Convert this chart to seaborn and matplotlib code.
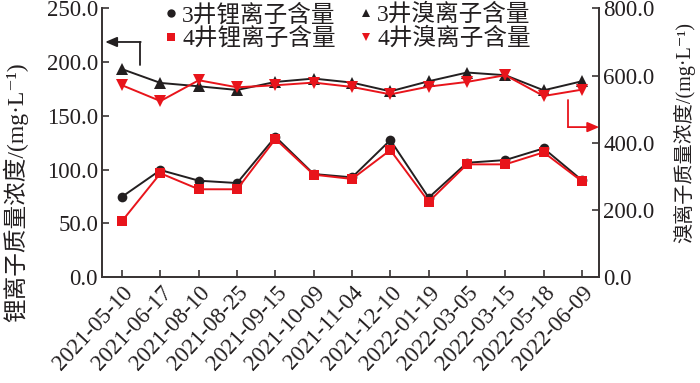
import numpy as np
import pandas as pd
import matplotlib
matplotlib.use("Agg")
import matplotlib.pyplot as plt
import seaborn as sns
from matplotlib.lines import Line2D
from matplotlib.ticker import FormatStrFormatter

# ---- data ----
dates = ["2021-05-10", "2021-06-17", "2021-08-10", "2021-08-25", "2021-09-15",
         "2021-10-09", "2021-11-04", "2021-12-10", "2022-01-19", "2022-03-05",
         "2022-03-15", "2022-05-18", "2022-06-09"]
li_well3 = [74.7, 99.5, 89.6, 87.4, 130.5, 95.8, 92.7, 127.4, 73.8, 106.3, 108.8, 119.7, 90.0]
li_well4 = [52.1, 96.5, 81.6, 81.6, 128.4, 95.2, 91.2, 118.1, 70.0, 104.8, 104.8, 116.0, 89.0]
br_well3 = [619, 578, 568, 557, 581, 591, 579, 553, 583, 609, 601, 556, 583]
br_well4 = [571, 524, 586, 565, 571, 579, 566, 544, 567, 581, 601, 539, 558]
labels = ["3井锂离子含量", "4井锂离子含量", "3井溴离子含量", "4井溴离子含量"]

sns.set_style("ticks")
FAM = ['Liberation Serif', 'Noto Sans CJK SC', 'DejaVu Serif', 'DejaVu Sans']
plt.rcParams['font.family'] = FAM
plt.rcParams['axes.unicode_minus'] = False

BLACK = "#231f20"
RED = "#e8141b"
AXC = "#3a3535"

df = pd.DataFrame({"idx": np.arange(len(dates)), "date": dates,
                   "li3": li_well3, "li4": li_well4, "br3": br_well3, "br4": br_well4})

fig = plt.figure(figsize=(7.0, 3.83), dpi=100)
ax = fig.add_axes([0.146, 0.277, 0.710, 0.701])
ax2 = ax.twinx()

sns.lineplot(data=df, x="idx", y="li3", ax=ax, color=BLACK, marker="o", markersize=7,
             markeredgewidth=0, linewidth=1.4, zorder=3)
sns.lineplot(data=df, x="idx", y="li4", ax=ax, color=RED, marker="s", markersize=7,
             markeredgewidth=0, linewidth=1.4, zorder=4)
sns.lineplot(data=df, x="idx", y="br3", ax=ax2, color=BLACK, marker="^", markersize=8,
             markeredgewidth=0, linewidth=1.4, zorder=3)
sns.lineplot(data=df, x="idx", y="br4", ax=ax2, color=RED, marker="v", markersize=8,
             markeredgewidth=0, linewidth=1.4, zorder=4)

ax.set_xlim(-0.52, 12.45)
ax.set_ylim(0, 250)
ax2.set_ylim(0, 800)
ax.set_yticks(np.arange(0, 251, 50))
ax2.set_yticks(np.arange(0, 801, 200))
ax.yaxis.set_major_formatter(FormatStrFormatter('%.1f'))
ax2.yaxis.set_major_formatter(FormatStrFormatter('%.1f'))
ax.set_xticks(df["idx"])
ax.set_xticklabels(dates, rotation=47, ha="right", rotation_mode="anchor")

ax.set_xlabel("")
ax.set_ylabel("")
ax2.set_ylabel("")

for a in (ax, ax2):
    for s in a.spines.values():
        s.set_color(AXC)
        s.set_linewidth(1.3)
    a.spines['top'].set_visible(False)
    a.tick_params(direction="in", length=5, width=1.2, color=AXC,
                  labelsize=16.5, labelcolor="#231f20", pad=3)
ax.tick_params(axis='x', pad=4)

# axis titles
fig.text(0.022, 0.497, "锂离子质量浓度/(mg·L⁻¹)", rotation=90, ha="center",
         va="center", fontsize=17, color="#231f20", family=FAM)
fig.text(0.978, 0.653, "溴离子质量浓度/(mg·L⁻¹)", rotation=90, ha="center",
         va="center", fontsize=14.5, color="#231f20", family=FAM)

# direction arrows
ax.plot([0.0765, 0.0765], [0.789, 0.875], transform=ax.transAxes, color=BLACK,
        lw=1.3, clip_on=False)
ax.annotate("", xy=(0.006, 0.875), xytext=(0.0775, 0.875), xycoords="axes fraction",
            arrowprops=dict(arrowstyle="-|>,head_length=0.7,head_width=0.3",
                            color=BLACK, lw=1.3, shrinkA=0, shrinkB=0))
ax2.plot([0.938, 0.938], [0.659, 0.558], transform=ax2.transAxes, color=RED,
         lw=1.3, clip_on=False)
ax2.annotate("", xy=(1.0, 0.558), xytext=(0.937, 0.558), xycoords="axes fraction",
             arrowprops=dict(arrowstyle="-|>,head_length=0.7,head_width=0.3",
                             color=RED, lw=1.3, shrinkA=0, shrinkB=0))

handles = [
    Line2D([], [], ls="none", marker="o", color=BLACK, markersize=6, markeredgewidth=0),
    Line2D([], [], ls="none", marker="s", color=RED, markersize=6, markeredgewidth=0),
    Line2D([], [], ls="none", marker="^", color=BLACK, markersize=6, markeredgewidth=0),
    Line2D([], [], ls="none", marker="v", color=RED, markersize=6, markeredgewidth=0),
]
leg = fig.legend(handles, labels, ncol=2, loc="upper left", bbox_to_anchor=(0.218, 1.015),
                 frameon=False, handletextpad=0.05, columnspacing=0.9, labelspacing=0.05,
                 handlelength=0.8, borderaxespad=0, fontsize=17)
for t in leg.get_texts():
    t.set_color("#231f20")

fig.savefig("out.png", dpi=100)
